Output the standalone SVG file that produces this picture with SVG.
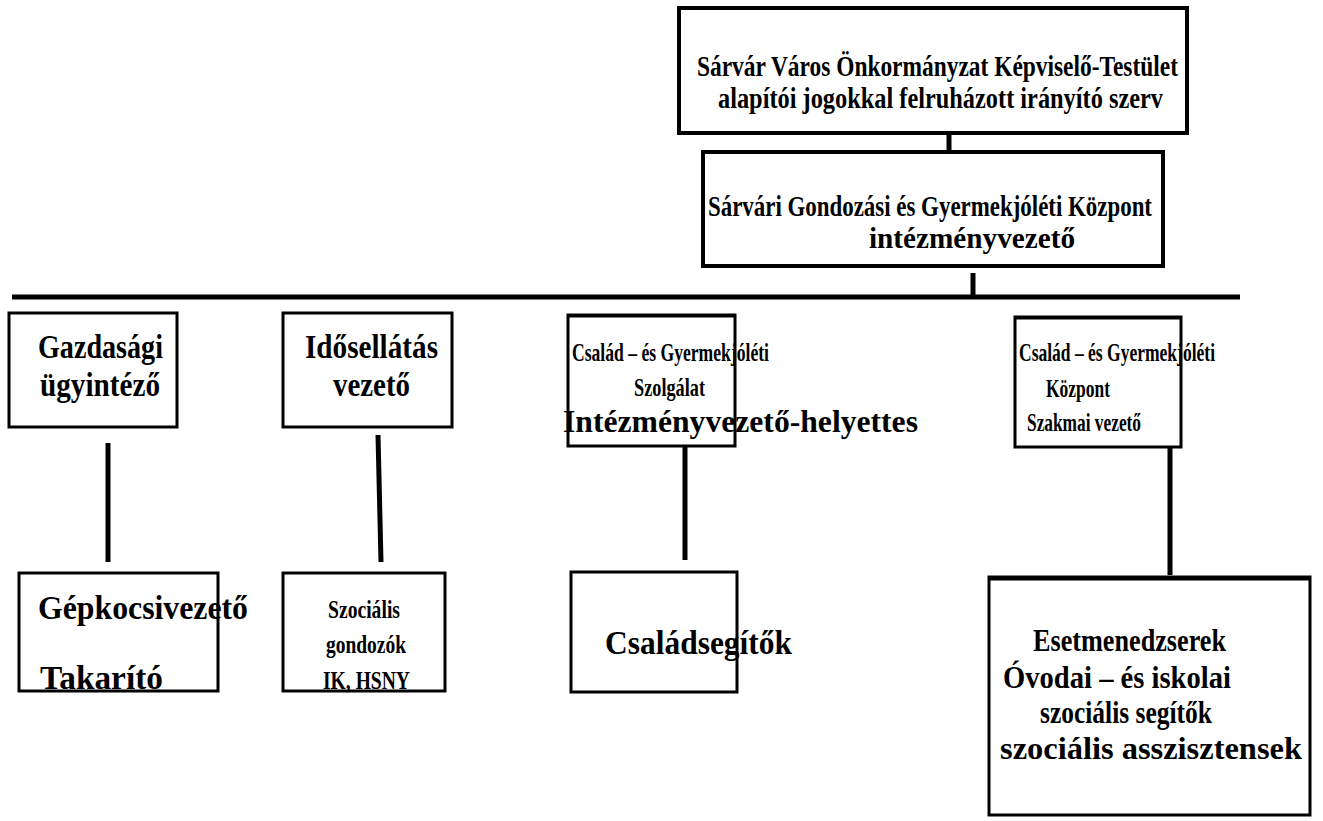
<svg xmlns="http://www.w3.org/2000/svg" width="1323" height="821" viewBox="0 0 1323 821">
<style>
.box{fill:#fff;stroke:#000;stroke-width:3}
.thick{stroke-width:4}
.t{font-family:"Liberation Serif","Times New Roman",serif;font-weight:bold;fill:#000}
.c{stroke:#000;stroke-width:5;fill:none}
.edge{stroke:#000;stroke-width:3;fill:none}
</style>
<rect width="1323" height="821" fill="#fff"/>
<g id="connectors">
<line class="c" x1="949" y1="133" x2="949" y2="152"/>
<line class="c" x1="973" y1="273" x2="973" y2="297"/>
<line class="c" x1="12" y1="297" x2="1240" y2="297"/>
<line class="c" x1="108" y1="443" x2="108" y2="562"/>
<line class="c" x1="378" y1="435" x2="381" y2="562"/>
<line class="c" x1="685" y1="446" x2="685" y2="560"/>
<line class="c" x1="1170" y1="447" x2="1170" y2="575"/>
</g>
<g id="n-council">
<rect class="box thick" x="679" y="8" width="508" height="125"/>
<text class="t" font-size="30" x="697" y="76" textLength="481" lengthAdjust="spacingAndGlyphs">Sárvár Város Önkormányzat Képviselő-Testület</text>
<text class="t" font-size="30" x="718" y="108" textLength="445" lengthAdjust="spacingAndGlyphs">alapítói jogokkal felruházott irányító szerv</text>
</g>
<g id="n-center">
<rect class="box thick" x="703" y="152" width="460" height="114"/>
<text class="t" font-size="30" x="708" y="216" textLength="444" lengthAdjust="spacingAndGlyphs">Sárvári Gondozási és Gyermekjóléti Központ</text>
<text class="t" font-size="30" x="869" y="248" textLength="206" lengthAdjust="spacingAndGlyphs">intézményvezető</text>
</g>
<g id="n-gazdasagi">
<rect class="box" x="9" y="313" width="168" height="114"/>
<text class="t" font-size="34" x="38" y="358" textLength="125" lengthAdjust="spacingAndGlyphs">Gazdasági</text>
<text class="t" font-size="34" x="40" y="396" textLength="120" lengthAdjust="spacingAndGlyphs">ügyintéző</text>
</g>
<g id="n-idosellatas">
<rect class="box" x="283" y="313" width="169" height="114"/>
<text class="t" font-size="34" x="305" y="358" textLength="133" lengthAdjust="spacingAndGlyphs">Idősellátás</text>
<text class="t" font-size="34" x="333" y="396" textLength="77" lengthAdjust="spacingAndGlyphs">vezető</text>
</g>
<g id="n-szolgalat">
<rect class="box" x="568" y="315" width="167" height="131"/>
<line class="edge" x1="568" y1="316" x2="735" y2="316"/>
<text class="t" font-size="26" x="572" y="361" textLength="197" lengthAdjust="spacingAndGlyphs">Család – és Gyermekjóléti</text>
<text class="t" font-size="26" x="634" y="396" textLength="71" lengthAdjust="spacingAndGlyphs">Szolgálat</text>
<text class="t" font-size="31" x="563" y="432" textLength="355" lengthAdjust="spacingAndGlyphs">Intézményvezető-helyettes</text>
</g>
<g id="n-kozpont">
<rect class="box" x="1015" y="317" width="166" height="130"/>
<line class="edge" x1="1015" y1="318" x2="1181" y2="318"/>
<text class="t" font-size="26" x="1019" y="361" textLength="196" lengthAdjust="spacingAndGlyphs">Család – és Gyermekjóléti</text>
<text class="t" font-size="26" x="1046" y="397" textLength="64" lengthAdjust="spacingAndGlyphs">Központ</text>
<text class="t" font-size="26" x="1027" y="431" textLength="114" lengthAdjust="spacingAndGlyphs">Szakmai vezető</text>
</g>
<g id="n-gepkocsi">
<rect class="box" x="19" y="573" width="199" height="118"/>
<text class="t" font-size="33" x="38" y="619" textLength="210" lengthAdjust="spacingAndGlyphs">Gépkocsivezető</text>
<text class="t" font-size="33" x="40" y="689" textLength="123" lengthAdjust="spacingAndGlyphs">Takarító</text>
</g>
<g id="n-szocialis">
<rect class="box" x="283" y="573" width="162" height="118"/>
<text class="t" font-size="26" x="328" y="618" textLength="72" lengthAdjust="spacingAndGlyphs">Szociális</text>
<text class="t" font-size="26" x="326" y="653" textLength="80" lengthAdjust="spacingAndGlyphs">gondozók</text>
<text class="t" font-size="26" x="323" y="689" textLength="87" lengthAdjust="spacingAndGlyphs">IK, HSNY</text>
</g>
<g id="n-csaladsegitok">
<rect class="box" x="571" y="572" width="166" height="120"/>
<text class="t" font-size="33" x="605" y="654" textLength="187" lengthAdjust="spacingAndGlyphs">Családsegítők</text>
</g>
<g id="n-esetmenedzserek">
<rect class="box" x="989" y="577" width="321" height="238"/>
<line class="edge" x1="989" y1="579" x2="1310" y2="579" stroke-width="6"/>
<text class="t" font-size="32" x="1033" y="651" textLength="193" lengthAdjust="spacingAndGlyphs">Esetmenedzserek</text>
<text class="t" font-size="32" x="1003" y="688" textLength="228" lengthAdjust="spacingAndGlyphs">Óvodai – és iskolai</text>
<text class="t" font-size="32" x="1040" y="723" textLength="172" lengthAdjust="spacingAndGlyphs">szociális segítők</text>
<text class="t" font-size="32" x="1000" y="759" textLength="302" lengthAdjust="spacingAndGlyphs">szociális asszisztensek</text>
</g>
</svg>
